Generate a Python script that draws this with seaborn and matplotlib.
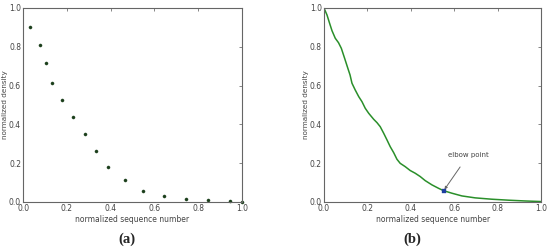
import matplotlib
matplotlib.use("Agg")
from matplotlib import pyplot as plt
import seaborn as sns
import pandas as pd

# (a) sampled points
seq_a = [0.032, 0.075, 0.105, 0.131, 0.177, 0.227, 0.285, 0.333, 0.390,
         0.467, 0.549, 0.645, 0.744, 0.845, 0.945, 1.0]
dens_a = [0.904, 0.811, 0.715, 0.615, 0.526, 0.436, 0.352, 0.263, 0.179,
          0.115, 0.057, 0.029, 0.015, 0.009, 0.003, 0.0]

# (b) density curve
seq_b = [0.0, 0.014, 0.026, 0.037, 0.052, 0.067, 0.080, 0.095, 0.110, 0.120,
         0.129, 0.144, 0.160, 0.175, 0.190, 0.206, 0.229, 0.244, 0.259, 0.275,
         0.290, 0.305, 0.321, 0.336, 0.351, 0.374, 0.397, 0.420, 0.443, 0.466,
         0.497, 0.528, 0.551, 0.589, 0.635, 0.696, 0.773, 0.850, 0.926, 1.0]
dens_b = [1.0, 0.964, 0.921, 0.883, 0.844, 0.821, 0.792, 0.741, 0.689, 0.655,
          0.612, 0.577, 0.543, 0.517, 0.483, 0.457, 0.426, 0.409, 0.388, 0.354,
          0.320, 0.285, 0.254, 0.220, 0.199, 0.182, 0.162, 0.148, 0.131, 0.110,
          0.088, 0.070, 0.058, 0.045, 0.031, 0.021, 0.014, 0.009, 0.005, 0.002]

elbow_x = [0.551]
elbow_y = [0.058]

ticks = [0.0, 0.2, 0.4, 0.6, 0.8, 1.0]

sns.set_style("white")
plt.rcParams['font.family'] = ['DejaVu Sans']

fig = plt.figure(figsize=(5.5, 2.49), dpi=100)
ax_a = fig.add_axes([0.042, 0.189, 0.398, 0.779])
ax_b = fig.add_axes([0.589, 0.189, 0.395, 0.779])

df_a = pd.DataFrame({'x': seq_a, 'y': dens_a})
sns.scatterplot(data=df_a, x='x', y='y', ax=ax_a, s=5, color='#1c3f1c',
                edgecolor='#1c3f1c', linewidth=0.3, clip_on=False)

df_b = pd.DataFrame({'x': seq_b, 'y': dens_b})
sns.lineplot(data=df_b, x='x', y='y', ax=ax_b, color='#2a8f2a', linewidth=1.1)
sns.scatterplot(x=elbow_x, y=elbow_y, ax=ax_b, s=10, marker='s',
                color='#1f3fa0', edgecolor='#1f3fa0', zorder=5)
ax_b.annotate('elbow point', xy=(elbow_x[0], elbow_y[0]), xytext=(0.665, 0.242),
              ha='center', va='center', fontsize=5, color='#444444',
              arrowprops=dict(arrowstyle='-|>', color='#666666', lw=0.7,
                              shrinkA=5, shrinkB=1, mutation_scale=4))

for ax in (ax_a, ax_b):
    ax.set_xlim(0, 1)
    ax.set_ylim(0, 1)
    ax.set_xticks(ticks)
    ax.set_yticks(ticks)
    ax.set_xticklabels([f'{t:.1f}' for t in ticks])
    ax.set_yticklabels([f'{t:.1f}' for t in ticks])
    ax.tick_params(direction='in', length=2, width=0.5, labelsize=5.5,
                   colors='#555555', labelcolor='#444444', pad=1.5,
                   top=True, right=True)
    for sp in ax.spines.values():
        sp.set_color('#666666')
        sp.set_linewidth(0.8)
    ax.set_xlabel('normalized sequence number', fontsize=5.5, color='#444444',
                  labelpad=1.5)
    ax.set_ylabel('normalized density', fontsize=5.2, color='#444444',
                  labelpad=0.5)

fig.text(127 / 550, 0.04, '(a)', ha='center', va='center', fontsize=10.5,
         fontweight='bold', family='Liberation Serif')
fig.text(412 / 550, 0.04, '(b)', ha='center', va='center', fontsize=10.5,
         fontweight='bold', family='Liberation Serif')

fig.savefig('out.png', dpi=100)
